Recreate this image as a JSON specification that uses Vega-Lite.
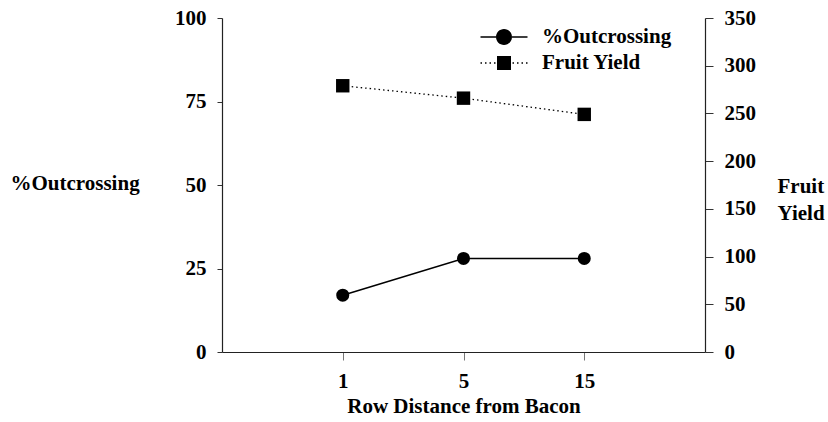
{
  "$schema": "https://vega.github.io/schema/vega-lite/v6.json",
  "width": 483,
  "height": 334,
  "autosize": {"type": "none"},
  "padding": {"left": 222, "top": 18, "right": 123, "bottom": 70},
  "background": "white",
  "config": {
    "view": {"stroke": null},
    "font": "Liberation Serif",
    "axis": {
      "labelFont": "Liberation Serif",
      "titleFont": "Liberation Serif",
      "labelFontWeight": "bold",
      "titleFontWeight": "bold",
      "labelColor": "black",
      "titleColor": "black",
      "labelFontSize": 21,
      "titleFontSize": 21,
      "domainColor": "#222",
      "domainWidth": 1.2,
      "tickColor": "#333",
      "grid": false
    }
  },
  "data": {
    "values": [
      {"distance": "1", "series": "%Outcrossing", "value": 17},
      {"distance": "5", "series": "%Outcrossing", "value": 28},
      {"distance": "15", "series": "%Outcrossing", "value": 28},
      {"distance": "1", "series": "Fruit Yield", "value": 279},
      {"distance": "5", "series": "Fruit Yield", "value": 266},
      {"distance": "15", "series": "Fruit Yield", "value": 249}
    ]
  },
  "encoding": {
    "x": {
      "field": "distance",
      "type": "ordinal",
      "sort": ["1", "5", "15"],
      "scale": {"type": "point", "padding": 1},
      "axis": {
        "title": "Row Distance from Bacon",
        "labelAngle": 0,
        "tickSize": 8,
        "tickColor": "#777",
        "labelPadding": 10,
        "titlePadding": 4
      }
    }
  },
  "layer": [
    {
      "transform": [{"filter": "datum.series === '%Outcrossing'"}],
      "encoding": {
        "y": {
          "field": "value",
          "type": "quantitative",
          "scale": {"domain": [0, 100]},
          "axis": {
            "orient": "left",
            "values": [0, 25, 50, 75, 100],
            "title": "%Outcrossing",
            "titleAngle": 0,
            "titleAlign": "left",
            "titleBaseline": "middle",
            "titleX": -212,
            "titleY": 165,
            "tickSize": 5,
            "labelPadding": 11
          }
        }
      },
      "layer": [
        {"mark": {"type": "line", "color": "black", "strokeWidth": 1.5}},
        {"mark": {"type": "point", "filled": true, "color": "black", "opacity": 1, "size": 170, "shape": "circle"}},
        {
          "mark": {"type": "point", "filled": true, "color": "black", "opacity": 1, "size": 0},
          "encoding": {
            "shape": {
              "field": "series",
              "type": "nominal",
              "scale": {
                "domain": ["%Outcrossing", "Fruit Yield"],
                "range": [
                  "M-2.35,-0.08H-0.8V0.08H-2.35ZM0.8,-0.08H2.35V0.08H0.8ZM-0.8,0A0.8,0.8,0,1,0,0.8,0A0.8,0.8,0,1,0,-0.8,0Z",
                  "M-2.35,-0.065h0.15v0.13h-0.15ZM-1.9,-0.065h0.15v0.13h-0.15ZM-1.45,-0.065h0.15v0.13h-0.15ZM-1.0,-0.065h0.15v0.13h-0.15ZM0.85,-0.065h0.15v0.13h-0.15ZM1.3,-0.065h0.15v0.13h-0.15ZM1.75,-0.065h0.15v0.13h-0.15ZM2.2,-0.065h0.15v0.13h-0.15ZM-0.7,-0.7h1.4v1.4h-1.4Z"
                ]
              },
              "legend": {
                "title": null,
                "orient": "none",
                "legendX": 271,
                "legendY": 8,
                "padding": 0,
                "symbolSize": 400,
                "symbolFillColor": "black",
                "symbolOpacity": 1,
                "labelFont": "Liberation Serif",
                "labelFontSize": 21,
                "labelFontWeight": "bold",
                "labelColor": "black",
                "labelOffset": 27,
                "rowPadding": 4
              }
            }
          }
        }
      ]
    },
    {
      "transform": [{"filter": "datum.series === 'Fruit Yield'"}],
      "encoding": {
        "y": {
          "field": "value",
          "type": "quantitative",
          "scale": {"domain": [0, 350]},
          "axis": {
            "orient": "right",
            "values": [0, 50, 100, 150, 200, 250, 300, 350],
            "title": ["Fruit", "Yield"],
            "titleAngle": 0,
            "titleAlign": "left",
            "titleBaseline": "top",
            "titleX": 72,
            "titleY": 157,
            "titleLineHeight": 27,
            "tickSize": 8,
            "labelPadding": 11
          }
        }
      },
      "layer": [
        {"mark": {"type": "line", "color": "black", "strokeWidth": 1.3, "strokeDash": [1.5, 3]}},
        {"mark": {"type": "point", "filled": true, "color": "black", "opacity": 1, "size": 180, "shape": "square"}}
      ]
    }
  ],
  "resolve": {"scale": {"y": "independent"}}
}
